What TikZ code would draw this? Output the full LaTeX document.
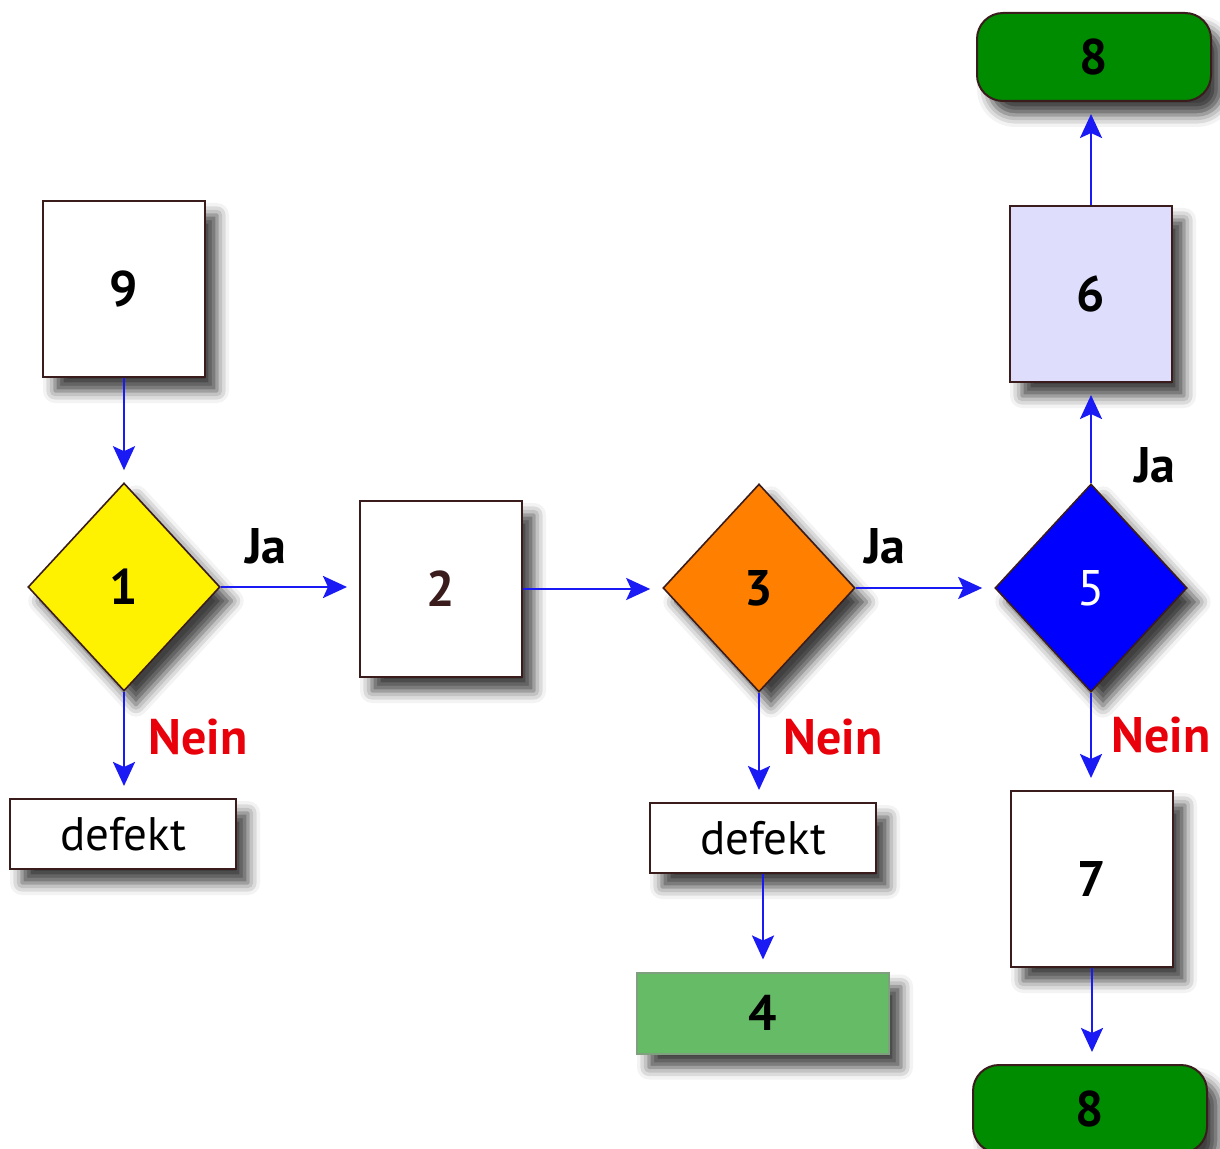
\documentclass[tikz,border=0pt]{standalone}
\usepackage{fontspec}
\setmainfont{PT Sans}
\usetikzlibrary{shapes.geometric,arrows.meta,shadows.blur}

\definecolor{rand}{HTML}{3A1C1C}
\definecolor{pfeilblau}{HTML}{1A1AF5}
\definecolor{neinrot}{HTML}{E8000B}
\definecolor{orangedrei}{HTML}{FF7F00}
\definecolor{lavendel}{HTML}{DEDEFC}
\definecolor{gruenacht}{HTML}{008C00}
\definecolor{gruenvier}{HTML}{66BB66}
\definecolor{randvier}{HTML}{7FA07F}

\begin{document}
\begin{tikzpicture}[x=0.5pt,y=-0.5pt,
  font=\fontsize{25}{30}\selectfont\bfseries,
  schatten/.style={blur shadow={shadow xshift=6pt,shadow yshift=-7pt,
    shadow blur radius=6pt,shadow opacity=75}},
  kasten/.style={draw=rand,line width=1pt,fill=white,inner sep=0pt,
    minimum width=81pt,minimum height=88pt,schatten},
  raute/.style={diamond,draw=rand,line width=0.8pt,inner sep=0pt,
    minimum width=96pt,minimum height=104pt,schatten},
  defektbox/.style={kasten,minimum width=113pt,minimum height=35pt,
    font=\fontsize{23.5}{30}\selectfont},
  endebox/.style={kasten,fill=gruenacht,rounded corners=13pt,
    minimum width=117pt,minimum height=44pt},
  pfeil/.style={draw=pfeilblau,line width=1.3pt,
    -{Stealth[length=12pt,width=11pt,inset=2.5pt]},shorten >=6pt},
  nein/.style={text=neinrot,font=\fontsize{25}{30}\selectfont\bfseries}
]
\useasboundingbox (0,0) rectangle (1220,1149);

% Knoten
\node[kasten] (n9) at (124,289) {9};
\node[raute,fill=yellow] (n1) at (124,587) {1};
\node[kasten] (n2) at (441,589) {\textcolor{rand}{2}};
\node[raute,fill=orangedrei] (n3) at (759,588) {3};
\node[raute,fill=blue,text=white,font=\fontsize{25}{30}\selectfont] (n5) at (1091,588) {5};
\node[kasten,fill=lavendel] (n6) at (1091,294) {6};
\node[endebox] (n8o) at (1094,57) {8};
\node[defektbox] (d1) at (123,834) {defekt};
\node[defektbox] (d3) at (763,838) {defekt};
\node[kasten,fill=gruenvier,draw=randvier,minimum width=126pt,minimum height=40.5pt] (n4) at (763,1013) {4};
\node[kasten] (n7) at (1092,879) {7};
\node[endebox] (n8u) at (1090,1109) {8};

% Beschriftungen
\node (ja1) at (266,546) {Ja};
\node (ja3) at (885,546) {Ja};
\node (ja5) at (1155,465) {Ja};
\node[nein] (nein1) at (198,737) {Nein};
\node[nein] (nein3) at (833,737) {Nein};
\node[nein] (nein5) at (1161,735) {Nein};

% Pfeile
\draw[pfeil] (n9.south) -- (n9.south |- n1.north);
\draw[pfeil] (n1.east) -- (n1.east -| n2.west);
\draw[pfeil] (n2.east) -- (n2.east -| n3.west);
\draw[pfeil] (n3.east) -- (n3.east -| n5.west);
\draw[pfeil] (n5.north) -- (n5.north |- n6.south);
\draw[pfeil] (n6.north) -- (n6.north |- n8o.south);
\draw[pfeil] (n1.south) -- (n1.south |- d1.north);
\draw[pfeil] (n3.south) -- (n3.south |- d3.north);
\draw[pfeil] (d3.south) -- (d3.south |- n4.north);
\draw[pfeil] (n5.south) -- (n5.south |- n7.north);
\draw[pfeil] (n7.south) -- (n7.south |- n8u.north);

\end{tikzpicture}
\end{document}
